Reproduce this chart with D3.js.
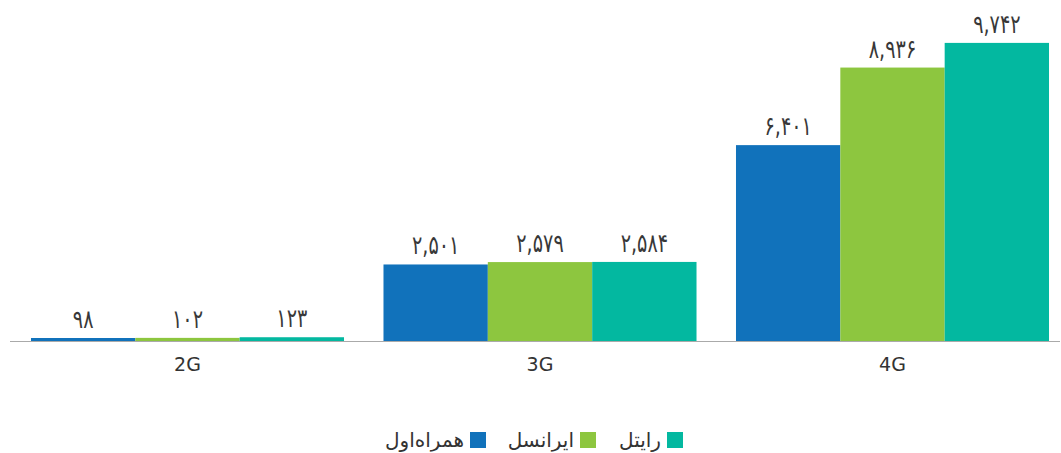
<!DOCTYPE html>
<html><head><meta charset="utf-8">
<script src="https://cdn.jsdelivr.net/npm/d3@7"></script>
<style>body{margin:0;background:#fff}svg{display:block}</style>
</head><body><svg id="c" width="1061" height="453"></svg>
<script>
const categories = ["2G","3G","4G"];
const seriesNames = ["همراه‌اول","ایرانسل","رایتل"];
const seriesColors = ["#1172BB","#8DC63F","#03B8A0"];
const mci = [98, 2501, 6401];
const irancell = [102, 2579, 8936];
const rightel = [123, 2584, 9742];
const seriesValues = [mci, irancell, rightel];

const svg = d3.select("#c");
const font = "'DejaVu Sans', sans-serif";
const baseY = 341;
const x0 = d3.scaleBand().domain(categories).range([11.25, 1068.75]).paddingInner(0.112).paddingOuter(0.056);
const x1 = d3.scaleBand().domain(d3.range(seriesNames.length)).range([0, x0.bandwidth()]).padding(0);
const y = d3.scaleLinear().domain([0, 10000]).range([baseY, 35]);
const fa = s => s.replace(/\d/g, d => "۰۱۲۳۴۵۶۷۸۹"[+d]);
const fmt = v => fa(d3.format(",")(v));

const rows = [];
categories.forEach((c, i) => seriesValues.forEach((vals, s) => rows.push({c, s, v: vals[i]})));

svg.append("g").selectAll("rect").data(rows).join("rect")
  .attr("x", d => x0(d.c) + x1(d.s))
  .attr("width", x1.bandwidth())
  .attr("y", d => y(d.v))
  .attr("height", d => baseY - y(d.v))
  .attr("fill", d => seriesColors[d.s]);

svg.append("line").attr("x1", 10).attr("x2", 1060).attr("y1", baseY + 0.5).attr("y2", baseY + 0.5)
  .attr("stroke", "#aaaaaa").attr("stroke-width", 1);

svg.append("g").selectAll("text").data(rows).join("text")
  .attr("transform", d => `translate(${x0(d.c) + x1(d.s) + x1.bandwidth() / 2},${y(d.v) - 10}) scale(0.74,1)`)
  .attr("text-anchor", "middle")
  .attr("font-family", font).attr("font-size", 26).attr("fill", "#383838")
  .text(d => fmt(d.v));

const xAxis = svg.append("g").attr("transform", `translate(0,${baseY})`)
  .call(d3.axisBottom(x0).tickSize(0).tickPadding(17));
xAxis.select(".domain").remove();
xAxis.selectAll("text").attr("font-family", font).attr("font-size", 19).attr("fill", "#333");

const legendX = [470, 580, 667];
const lg = svg.append("g").selectAll("g").data(seriesNames).join("g")
  .attr("transform", (d, i) => `translate(${legendX[i]},432)`);
lg.append("rect").attr("width", 16).attr("height", 16).attr("fill", (d, i) => seriesColors[i]);
lg.append("text").attr("x", -6).attr("y", 15).attr("text-anchor", "end")
  .attr("font-family", font).attr("font-size", 20).attr("fill", "#333")
  .text(d => d);
</script></body></html>
